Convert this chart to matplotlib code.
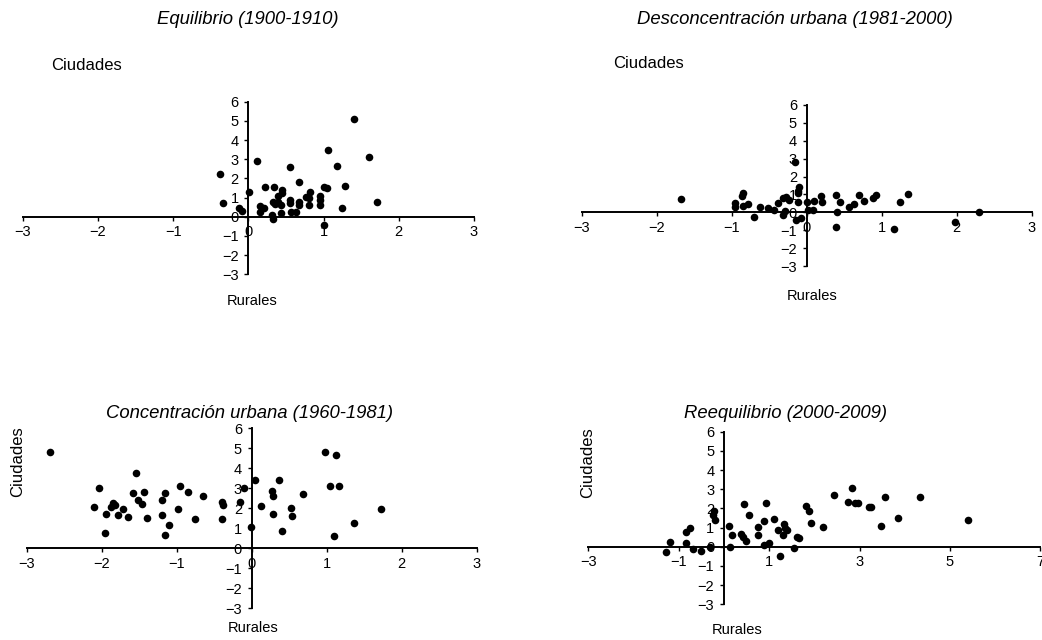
import matplotlib
matplotlib.use('Agg')
import matplotlib.pyplot as plt

######################################################################
# Data (rural growth vs. city growth per period)
######################################################################

equil_rur = [-0.37, -0.33, -0.12, -0.08, 0.01, 0.12, 0.15, 0.16, 0.21, 0.22,
             0.31, 0.33, 0.34, 0.33, 0.35, 0.39, 0.40, 0.44, 0.45, 0.45,
             0.44, 0.55, 0.56, 0.56, 0.57, 0.64, 0.67, 0.67, 0.67, 0.77,
             0.82, 0.81, 0.81, 0.96, 0.96, 0.96, 1.00, 1.04, 1.01, 1.06,
             1.18, 1.25, 1.29, 1.40, 1.60, 1.71]
equil_ciu = [2.23, 0.70, 0.43, 0.31, 1.28, 2.90, 0.26, 0.56, 0.43, 1.56,
             0.09, -0.14, 1.56, 0.78, 0.65, 1.08, 0.78, 0.21, 1.39, 1.22,
             0.61, 0.87, 0.73, 2.60, 0.26, 0.26, 0.78, 0.61, 1.82, 1.04,
             1.30, 0.95, 0.61, 1.08, 0.87, 0.61, 1.53, 1.48, -0.42, 3.50,
             2.66, 0.47, 1.60, 5.10, 3.13, 0.75]

descon_rur = [-1.67, -0.96, -0.96, -0.86, -0.85, -0.85, -0.78, -0.70, -0.62,
              -0.52, -0.44, -0.38, -0.32, -0.28, -0.23, -0.32, -0.29, -0.14,
              -0.08, -0.12, -0.11, -0.10, -0.11, -0.15, 0.00, 0.02, 0.09,
              0.10, 0.19, 0.21, 0.39, 0.44, 0.41, 0.39, 0.56, 0.63, 0.70,
              0.76, 0.88, 0.92, 1.16, 1.24, 1.35, 1.98, 2.30]
descon_ciu = [0.73, 0.50, 0.28, 0.91, 1.06, 0.35, 0.45, -0.28, 0.30,
              0.22, 0.13, 0.50, 0.78, 0.88, 0.69, -0.15, 0.09, -0.43,
              -0.34, 0.60, 1.06, 1.43, 1.20, 2.83, 0.56, 0.13, 0.13,
              0.65, 0.91, 0.60, 0.97, 0.56, 0.00, -0.80, 0.32, 0.45, 0.97,
              0.65, 0.82, 0.97, -0.93, 0.56, 1.02, -0.52, 0.04]

concen_rur = [-2.69, -2.10, -2.04, -1.94, -1.96, -1.85, -1.87, -1.82, -1.78,
              -1.71, -1.65, -1.58, -1.54, -1.52, -1.46, -1.43, -1.40, -1.20,
              -1.19, -1.16, -1.15, -1.10, -0.96, -0.98, -0.85, -0.76, -0.65,
              -0.40, -0.39, -0.38, -0.15, -0.10, -0.01, 0.04, 0.12, 0.27,
              0.28, 0.29, 0.36, 0.41, 0.52, 0.54, 0.69, 0.98, 1.04, 1.12,
              1.10, 1.16, 1.36, 1.72]
concen_ciu = [4.83, 2.08, 3.00, 1.72, 0.78, 2.25, 2.05, 2.15, 1.67,
              1.95, 1.58, 2.78, 3.78, 2.42, 2.20, 2.83, 1.53, 1.67,
              2.42, 2.75, 0.67, 1.17, 3.13, 1.95, 2.83, 1.47, 2.62,
              1.45, 2.33, 2.17, 2.33, 3.03, 1.08, 3.42, 2.13, 2.88,
              2.62, 1.72, 3.42, 0.88, 2.00, 1.62, 2.72, 4.80, 3.13, 4.67,
              0.63, 3.13, 1.25, 1.95]

reeq_rur = [-1.28, -1.19, -0.84, -0.75, -0.84, -0.68, -0.50, -0.31, -0.22,
            -0.25, -0.20, 0.12, 0.13, 0.18, 0.37, 0.42, 0.48, 0.45, 0.55,
            0.75, 0.75, 0.88, 0.94, 0.88, 1.00, 1.11, 1.19, 1.33, 1.36,
            1.39, 1.30, 1.23, 1.55, 1.61, 1.67, 1.82, 1.89, 1.92, 2.18,
            2.44, 2.74, 2.84, 2.89, 2.96, 3.21, 3.26, 3.48, 3.56, 3.85,
            4.33, 5.39]
reeq_ciu = [-0.26, 0.26, 0.75, 1.00, 0.17, -0.10, -0.24, -0.02, 1.88,
            1.67, 1.39, 1.10, -0.03, 0.61, 0.66, 0.52, 0.31, 2.23, 1.67,
            1.01, 0.61, 1.36, 2.26, 0.09, 0.17, 1.44, 0.89, 1.18, 0.96,
            0.87, 0.61, -0.47, -0.07, 0.49, 0.45, 2.14, 1.88, 1.23, 1.01,
            2.70, 2.35, 3.04, 2.30, 2.26, 2.05, 2.09, 1.08, 2.61, 1.51,
            2.61, 1.39]

titles = ['Equilibrio (1900-1910)', 'Desconcentración urbana (1981-2000)',
          'Concentración urbana (1960-1981)', 'Reequilibrio (2000-2009)']

W, H = 1042, 640
plt.rcParams['font.family'] = ['Liberation Sans', 'DejaVu Sans']


def add_panel(fig, box, xlim, xticks):
    # box is (left, right, top, bottom) of the data limits, in pixels
    x0, x1, y0, y1 = box
    ax = fig.add_axes([x0 / W, 1 - y1 / H, (x1 - x0) / W, (y1 - y0) / H])
    ax.set_xlim(*xlim)
    ax.set_ylim(-3, 6)
    ax.patch.set_visible(False)
    for s in ('top', 'right'):
        ax.spines[s].set_visible(False)
    for s in ('left', 'bottom'):
        ax.spines[s].set_position(('data', 0))
        ax.spines[s].set_linewidth(1.4)
    ax.set_xticks(xticks)
    ax.set_yticks(range(-3, 7))
    ax.tick_params(direction='out', length=3, width=1, labelsize=10.5,
                   colors='black')
    ax.tick_params(axis='x', pad=3)
    ax.tick_params(axis='y', pad=4)
    return ax


def dots(ax, xs, ys):
    ax.scatter(xs, ys, s=30, color='black', linewidths=0, zorder=3,
               clip_on=False)


fig = plt.figure(figsize=(W / 100., H / 100.), dpi=100)

ax1 = add_panel(fig, (22.7, 473.9, 101.7, 274.2), (-3, 3), range(-3, 4))
dots(ax1, equil_rur, equil_ciu)
ax2 = add_panel(fig, (581.7, 1031.7, 105, 266), (-3, 3), range(-3, 4))
dots(ax2, descon_rur, descon_ciu)
ax3 = add_panel(fig, (26.7, 476.7, 428.3, 608.3), (-3, 3), range(-3, 4))
dots(ax3, concen_rur, concen_ciu)
ax4 = add_panel(fig, (588.4, 1040.4, 431.7, 604.2), (-3, 7), range(-3, 8, 2))
dots(ax4, reeq_rur, reeq_ciu)


def ftext(x, y, s, **kw):
    fig.text(x / W, 1 - y / H, s, ha='center', va='center', **kw)


# Titles
for (x, y), t in zip([(248, 20), (795, 20), (250, 413), (786, 414)], titles):
    ftext(x, y, t, fontsize=13.3, style='italic')

# Axis labels
ftext(87, 65, 'Ciudades', fontsize=12)
ftext(648, 64, 'Ciudades', fontsize=12)
ftext(18, 462, 'Ciudades', fontsize=12, rotation=90)
ftext(588, 463, 'Ciudades', fontsize=12, rotation=90)
ftext(252, 301, 'Rurales', fontsize=10.5)
ftext(812, 296, 'Rurales', fontsize=10.5)
ftext(253, 628, 'Rurales', fontsize=10.5)
ftext(737, 630, 'Rurales', fontsize=10.5)

fig.savefig('out.png', dpi=100)
